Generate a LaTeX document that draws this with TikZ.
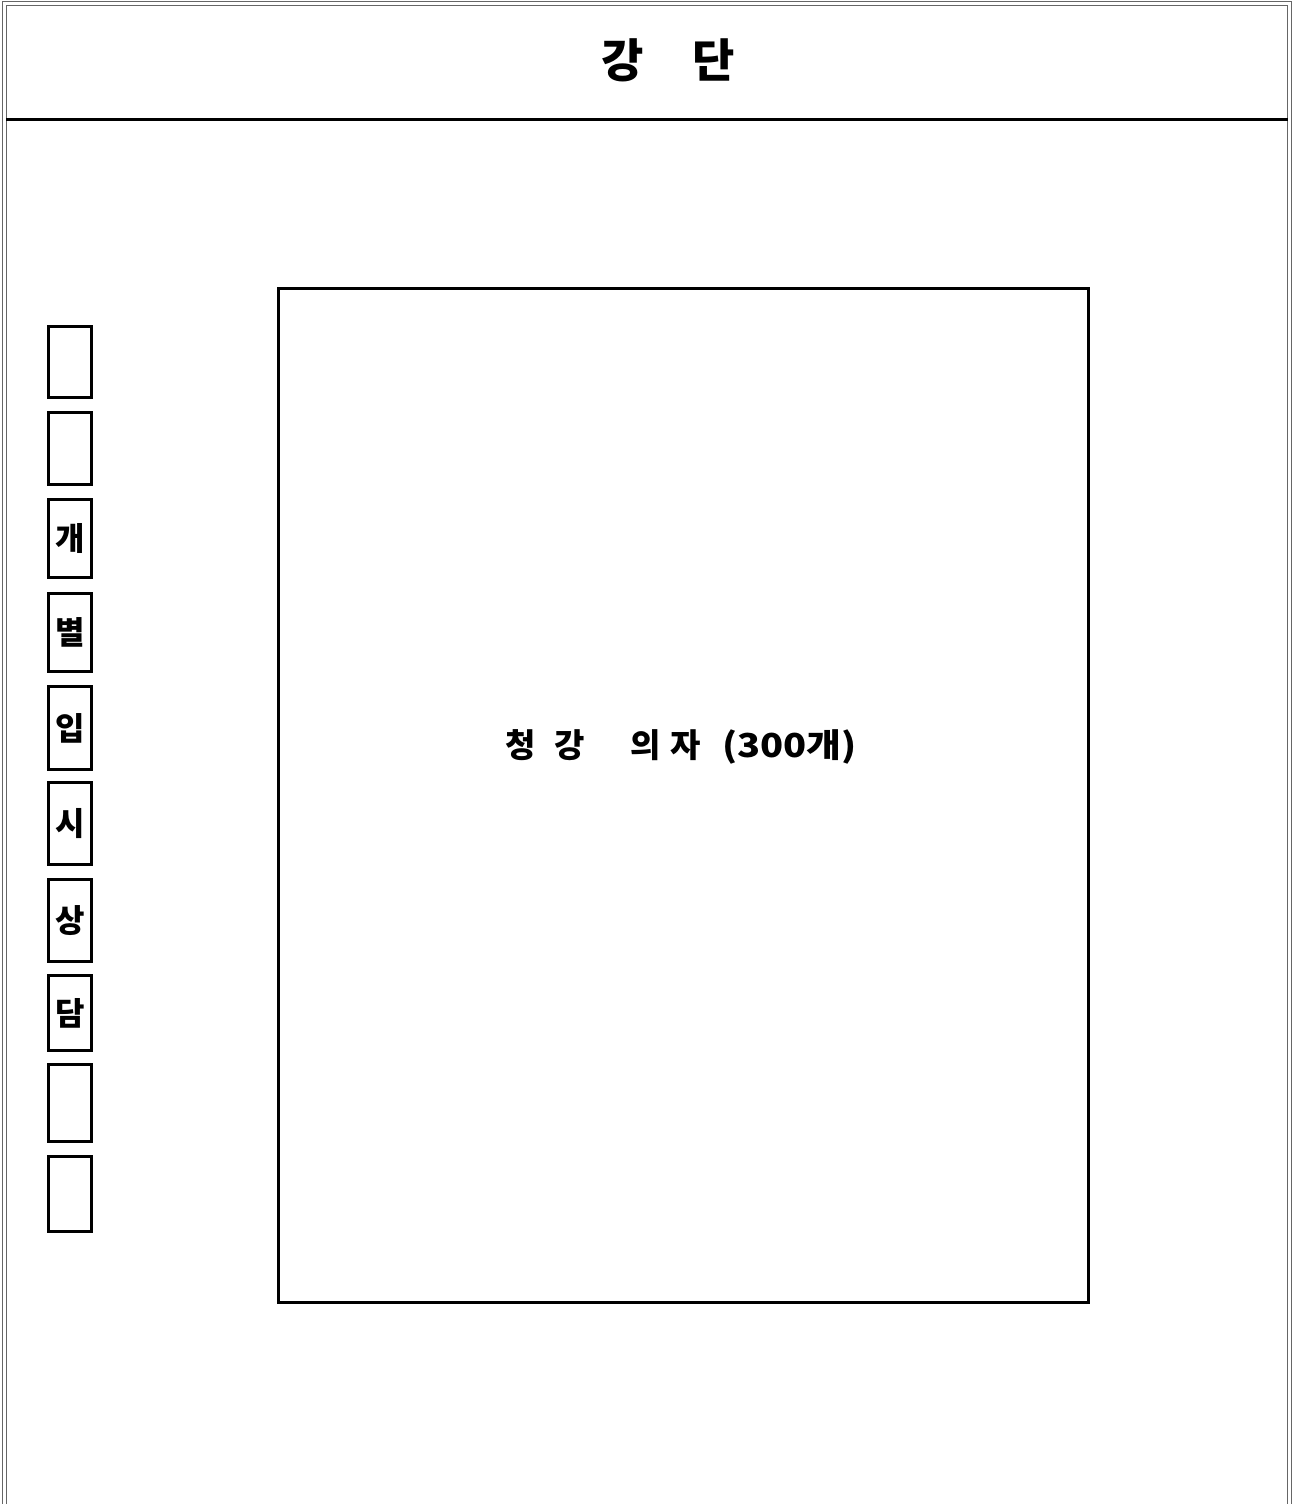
\documentclass[tikz,border=0pt]{standalone}
\usepackage{fontspec}
\setmainfont{Noto Sans CJK KR}
\usetikzlibrary{positioning}

\begin{document}
\begin{tikzpicture}[x=1pt, y=-1pt,
  frame/.style={draw=black!60, double=white, double distance=2.4pt, line width=1pt},
  hall/.style={draw, line width=3pt, minimum width=810pt, minimum height=1014pt, inner sep=0pt},
  deskbox/.style={draw, line width=2.7pt, minimum width=43.5pt, inner sep=0pt, font=\fontsize{32}{36}\selectfont\bfseries}]
\useasboundingbox (0,0) rectangle (1294,1504);
% Outer frame
\draw[frame] (4.5,1530) -- (4.5,3.5) -- (1289.5,3.5) -- (1289.5,1530);
\node[font=\fontsize{46}{50}\selectfont\bfseries] (stage) at (668,60) {강\hspace{1.05em}단};
\draw[line width=3.5pt] (6,119.5) coordinate (sl) -- (1288,119.5) coordinate (sr);
% Seating area
\node[hall] (hall) at (683.5,795.5) {};
\node[font=\fontsize{33}{37}\selectfont\bfseries] (seats) at (681.5,747)
  {청\hspace{18pt}강\hspace{46pt}의\hspace{9pt}자\hspace{22pt}\scalebox{1.15}[1]{(300개)}};
% Counselling booths
\foreach \t/\b/\txt/\n in {325/399/{}/1, 411/486/{}/2, 498/579/개/3, 592/673/별/4,
    685/771/입/5, 781/866/시/6, 878/963/상/7, 974/1052/담/8, 1063/1143/{}/9, 1155/1233/{}/10}
  \node[deskbox, minimum height={\b-\t-2.7}] (d\n) at (70,{(\t+\b)/2}) {\txt};
\end{tikzpicture}
\end{document}
